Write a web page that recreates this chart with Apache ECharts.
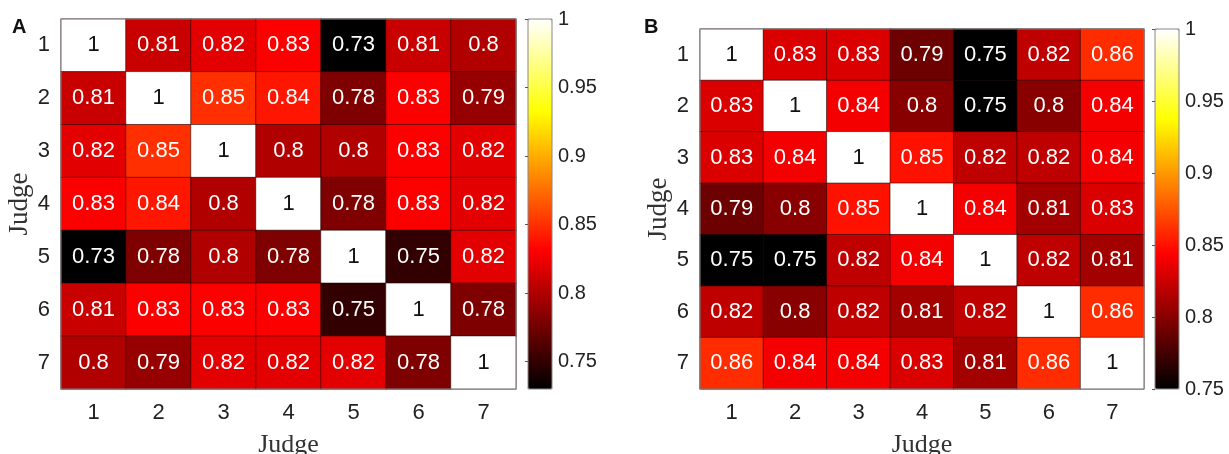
<!DOCTYPE html>
<html><head><meta charset="utf-8">
<script src="https://cdn.jsdelivr.net/npm/echarts@6/dist/echarts.min.js"></script>
<style>html,body{margin:0;padding:0;background:#fff}#c{width:1229px;height:454px}</style>
</head><body><div id="c"></div>
<script>
const judges = ['1','2','3','4','5','6','7'];
const matrixA = [
  [1, 0.81, 0.82, 0.83, 0.73, 0.81, 0.8],
  [0.81, 1, 0.85, 0.84, 0.78, 0.83, 0.79],
  [0.82, 0.85, 1, 0.8, 0.8, 0.83, 0.82],
  [0.83, 0.84, 0.8, 1, 0.78, 0.83, 0.82],
  [0.73, 0.78, 0.8, 0.78, 1, 0.75, 0.82],
  [0.81, 0.83, 0.83, 0.83, 0.75, 1, 0.78],
  [0.8, 0.79, 0.82, 0.82, 0.82, 0.78, 1]
];
const matrixB = [
  [1, 0.83, 0.83, 0.79, 0.75, 0.82, 0.86],
  [0.83, 1, 0.84, 0.8, 0.75, 0.8, 0.84],
  [0.83, 0.84, 1, 0.85, 0.82, 0.82, 0.84],
  [0.79, 0.8, 0.85, 1, 0.84, 0.81, 0.83],
  [0.75, 0.75, 0.82, 0.84, 1, 0.82, 0.81],
  [0.82, 0.8, 0.82, 0.81, 0.82, 1, 0.86],
  [0.86, 0.84, 0.84, 0.83, 0.81, 0.86, 1]
];
const rangeA = [0.73, 1];
const rangeB = [0.75, 1];
const cbTicks = [0.75, 0.8, 0.85, 0.9, 0.95, 1];
const hot = ['#000000','#550000','#aa0000','#ff0000','#ff5500','#ffaa00','#ffff00','#ffff80','#ffffff'];

function toData(m){
  const out = [];
  m.forEach((row,i)=>row.forEach((v,j)=>{
    out.push({value:[j,i,v], label:{color: v===1 ? '#111' : '#fff'}});
  }));
  return out;
}
const sans = 'Liberation Sans, Arial, sans-serif';
const serif = 'Liberation Serif, Times New Roman, serif';

function catX(gi){return {type:'category', gridIndex:gi, data:judges,
  axisLine:{show:false}, axisTick:{show:false}, splitLine:{show:false},
  axisLabel:{fontSize:22, fontFamily:sans, color:'#222', margin:13},
  name:'Judge', nameLocation:'middle', nameGap:43,
  nameTextStyle:{fontSize:26, fontFamily:serif, color:'#333'}};}
function catY(gi){return {type:'category', gridIndex:gi, data:judges, inverse:true,
  axisLine:{show:false}, axisTick:{show:false}, splitLine:{show:false},
  axisLabel:{fontSize:22, fontFamily:sans, color:'#222', margin:11},
  name:'Judge', nameLocation:'middle', nameGap:23, nameRotate:90,
  nameTextStyle:{fontSize:27, fontFamily:serif, color:'#333'}};}
function cbX(gi){return {type:'value', gridIndex:gi, show:false, min:0, max:1};}
function cbY(gi, r){return {type:'value', gridIndex:gi, position:'right', min:r[0], max:r[1], z:10,
  axisLine:{show:false}, splitLine:{show:false},
  axisTick:{show:true, inside:true, length:3, lineStyle:{color:'#555'}, customValues:cbTicks.filter(v=>v>=r[0])},
  axisLabel:{fontSize:20, fontFamily:sans, color:'#222', margin:6, customValues:cbTicks.filter(v=>v>=r[0]),
    formatter:v=>String(+v.toFixed(2))}};}

const heat = (xi, m) => ({type:'heatmap', xAxisIndex:xi, yAxisIndex:xi, data:toData(m),
  label:{show:true, fontSize:22, fontFamily:sans, formatter:p=>String(p.value[2])},
  itemStyle:{borderColor:'rgba(30,0,0,0.55)', borderWidth:1},
  emphasis:{disabled:true}});

const gridBase = {show:true, borderColor:'#888', borderWidth:1, backgroundColor:'transparent', z:10, outerBoundsMode:'none', containLabel:false};
const option = {
  animation:false,
  title:[
    {text:'A', left:12, top:17, padding:0, textStyle:{fontSize:20, fontWeight:'bold', fontFamily:sans, color:'#111'}},
    {text:'B', left:644, top:17, padding:0, textStyle:{fontSize:20, fontWeight:'bold', fontFamily:sans, color:'#111'}}
  ],
  grid:[
    Object.assign({left:61, top:19, width:455, height:370}, gridBase),
    Object.assign({left:528, top:19, width:24, height:370}, gridBase),
    Object.assign({left:700, top:29, width:444, height:360}, gridBase),
    Object.assign({left:1155, top:29, width:24, height:360}, gridBase)
  ],
  xAxis:[catX(0), cbX(1), catX(2), cbX(3)],
  yAxis:[catY(0), cbY(1, rangeA), catY(2), cbY(3, rangeB)],
  visualMap:[
    {type:'continuous', seriesIndex:0, min:rangeA[0], max:rangeA[1], left:528, top:19, itemWidth:24, itemHeight:370,
     calculable:false, hoverLink:false, padding:0, inRange:{color:hot}, outOfRange:{color:'#000'}},
    {type:'continuous', seriesIndex:1, min:rangeB[0], max:rangeB[1], left:1155, top:29, itemWidth:24, itemHeight:360,
     calculable:false, hoverLink:false, padding:0, inRange:{color:hot}, outOfRange:{color:'#000'}}
  ],
  series:[heat(0, matrixA), heat(2, matrixB)]
};
const chart = echarts.init(document.getElementById('c'), null, {renderer:'canvas'});
chart.setOption(option);
</script></body></html>
